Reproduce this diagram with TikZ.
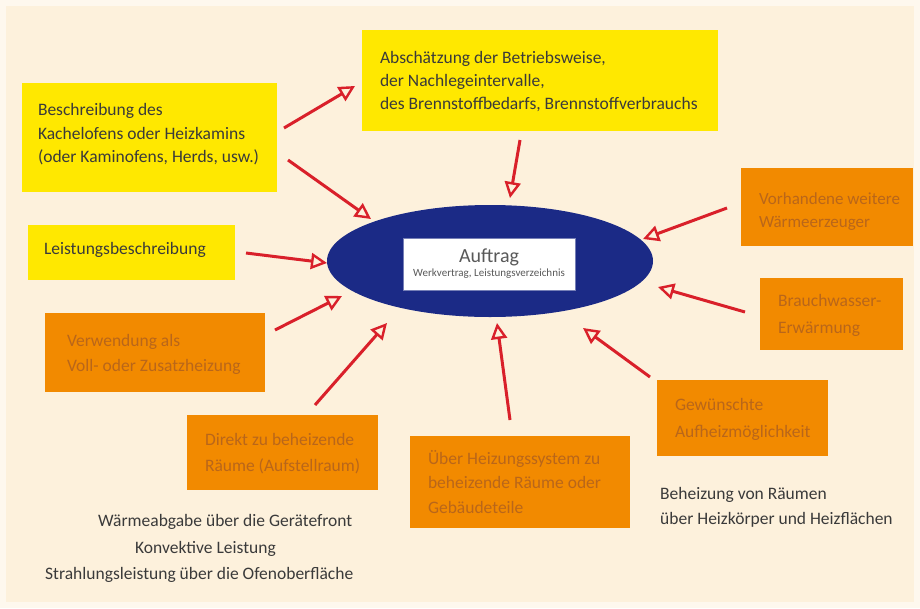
\documentclass[tikz,border=0pt]{standalone}
\usepackage{fontspec}
\setmainfont{Carlito}
\usetikzlibrary{shapes.geometric,arrows.meta}
\definecolor{cream}{HTML}{FDF1DC}
\definecolor{rim}{HTML}{FEF8EE}
\definecolor{ybox}{HTML}{FFE800}
\definecolor{obox}{HTML}{F28A00}
\definecolor{otext}{HTML}{B9661A}
\definecolor{navy}{HTML}{1B2A86}
\definecolor{arrred}{HTML}{D9202A}
\definecolor{dtext}{HTML}{3A3A3A}
\tikzset{
  box/.style={rectangle, inner sep=0pt},
  ybox/.style={box, fill=ybox},
  obox/.style={box, fill=obox},
  btext/.style={anchor=west, align=left, inner sep=0pt,
    font=\fontsize{17.5}{24}\selectfont},
  ytext/.style={btext, text=dtext},
  otext/.style={btext, text=otext},
  arr/.style={draw=arrred, line width=3pt,
    -{Triangle[open, length=16pt, width=16pt, line width=2.4pt]}},
  plain/.style={text=dtext, font=\fontsize{17.5}{26}\selectfont, inner sep=0pt}
}
\begin{document}
\begin{tikzpicture}[x=1pt,y=-1pt]
\useasboundingbox (0,0) rectangle (920,608);
\fill[rim] (0,0) rectangle (920,608);
\fill[cream] (6,6) rectangle (914,602);

% yellow boxes
\node[ybox, minimum width=356pt, minimum height=101pt] (absch) at (540,80.5) {};
\node[ytext, font=\fontsize{17.5}{23}\selectfont] (abscht) at ([xshift=18pt,yshift=-1.5pt]absch.west)
  {Abschätzung der Betriebsweise,\\der Nachlegeintervalle,\\des Brennstoffbedarfs, Brennstoffverbrauchs};
\node[ybox, minimum width=255pt, minimum height=109pt] (beschr) at (149.5,137.5) {};
\node[ytext, font=\fontsize{17.5}{23.5}\selectfont] (beschrt) at ([xshift=16pt,yshift=3pt]beschr.west)
  {Beschreibung des\\Kachelofens oder Heizkamins\\(oder Kaminofens, Herds, usw.)};
\node[ybox, minimum width=207pt, minimum height=55pt] (leist) at (131.5,252.5) {};
\node[ytext] (leistt) at ([xshift=16pt,yshift=3pt]leist.west) {Leistungsbeschreibung};

% orange boxes
\node[obox, minimum width=220pt, minimum height=79pt] (verw) at (155,352.5) {};
\node[otext, font=\fontsize{17.5}{25}\selectfont] (verwt) at ([xshift=22pt,yshift=-1.5pt]verw.west)
  {Verwendung als\\Voll- oder Zusatzheizung};
\node[obox, minimum width=191pt, minimum height=75pt] (direkt) at (282.5,452.5) {};
\node[otext, font=\fontsize{17.5}{26}\selectfont] (direktt) at ([xshift=18pt,yshift=-1.5pt]direkt.west)
  {Direkt zu beheizende\\Räume (Aufstellraum)};
\node[obox, minimum width=220pt, minimum height=92pt] (ueber) at (520,482) {};
\node[otext, font=\fontsize{17.5}{24.5}\selectfont] (uebert) at ([xshift=18pt]ueber.west)
  {Über Heizungssystem zu\\beheizende Räume oder\\Gebäudeteile};
\node[obox, minimum width=171pt, minimum height=76pt] (gew) at (742.5,418) {};
\node[otext, font=\fontsize{17.5}{27}\selectfont] (gewt) at ([xshift=18pt,yshift=-1.5pt]gew.west)
  {Gewünschte\\Aufheizmöglichkeit};
\node[obox, minimum width=143pt, minimum height=72pt] (brauch) at (831.5,314) {};
\node[otext, font=\fontsize{17.5}{27}\selectfont] (braucht) at ([xshift=18pt,yshift=-1pt]brauch.west)
  {Brauchwasser-\\Erwärmung};
\node[obox, minimum width=172pt, minimum height=78pt] (vorh) at (827,207) {};
\node[otext, font=\fontsize{17}{23}\selectfont] (vorht) at ([xshift=18pt,yshift=-4.5pt]vorh.west)
  {Vorhandene weitere\\Wärmeerzeuger};

% central ellipse
\node[ellipse, fill=navy, minimum width=326pt, minimum height=112pt, inner sep=0pt] (ell) at (490,261) {};
\node[rectangle, fill=white, draw=navy!60, line width=0.4pt, minimum width=172pt, minimum height=52pt,
  align=center, text=black!65, inner sep=0pt] (auftrag) at (489,264)
  {{\fontsize{20}{21}\selectfont Auftrag}\\[2pt]{\fontsize{11}{12}\selectfont Werkvertrag, Leistungsverzeichnis}};

% bottom texts
\node[plain, anchor=base west] (t1) at (98,526) {Wärmeabgabe über die Gerätefront};
\node[plain, anchor=base west] (t2) at (135,553) {Konvektive Leistung};
\node[plain, anchor=base west] (t3) at (45,579) {Strahlungsleistung über die Ofenoberfläche};
\node[plain, anchor=north west, align=left, font=\fontsize{17.5}{25}\selectfont] (t4) at (660,487)
  {Beheizung von Räumen\\über Heizkörper und Heizflächen};

% arrow coordinates
\coordinate (a1s) at (284,128);  \coordinate (a1e) at (355,86);
\coordinate (a2s) at (288,160);  \coordinate (a2e) at (371,219);
\coordinate (a3s) at (520,140);  \coordinate (a3e) at (510,198);
\coordinate (a4s) at (246,253);  \coordinate (a4e) at (327,263);
\coordinate (a5s) at (275,330);  \coordinate (a5e) at (342,296);
\coordinate (a6s) at (315,405);  \coordinate (a6e) at (387,323);
\coordinate (a7s) at (510,420);  \coordinate (a7e) at (497,323);
\coordinate (a8s) at (650,377);  \coordinate (a8e) at (583,328);
\coordinate (a9s) at (745,312);  \coordinate (a9e) at (658,287);
\coordinate (a10s) at (727,208); \coordinate (a10e) at (643,239);

\draw[arr] (a1s) -- (a1e);
\draw[arr] (a2s) -- (a2e);
\draw[arr] (a3s) -- (a3e);
\draw[arr] (a4s) -- (a4e);
\draw[arr] (a5s) -- (a5e);
\draw[arr] (a6s) -- (a6e);
\draw[arr] (a7s) -- (a7e);
\draw[arr] (a8s) -- (a8e);
\draw[arr] (a9s) -- (a9e);
\draw[arr] (a10s) -- (a10e);
\end{tikzpicture}
\end{document}
